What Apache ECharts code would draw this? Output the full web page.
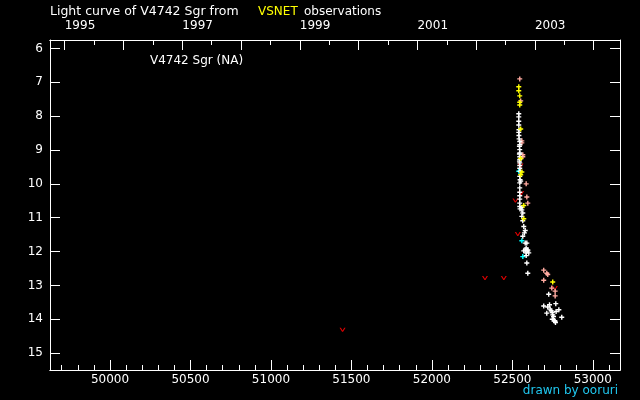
<!DOCTYPE html>
<html>
<head>
<meta charset="utf-8">
<script src="https://cdn.jsdelivr.net/npm/echarts@6/dist/echarts.min.js"></script>
<style>
  html, body { margin: 0; background: #000; }
  #chart { width: 640px; height: 400px; }
</style>
</head>
<body>
<div id="chart"></div>
<script>
// V4742 Sgr 光度曲线: x = JD-2400000, y = 星等 (反向)
const visual = [
  [52540, 7.93], [52540, 8.02], [52540, 8.15], [52540, 8.26], [52541, 8.40], [52540, 8.48],
  [52541, 8.57], [52542, 8.67], [52546, 8.75], [52546, 8.84], [52544, 8.89], [52546, 8.99],
  [52546, 9.09], [52544, 9.12], [52546, 9.20], [52546, 9.28], [52544, 9.33], [52546, 9.38],
  [52546, 9.46], [52546, 9.54], [52548, 9.63], [52546, 9.78], [52548, 9.88], [52546, 9.97],
  [52552, 9.92], [52546, 10.12], [52546, 10.25], [52546, 10.35], [52546, 10.45], [52546, 10.57],
  [52546, 10.67], [52548, 10.74], [52559, 10.70], [52559, 10.77], [52565, 10.86], [52559, 10.96],
  [52565, 11.09], [52571, 11.26], [52580, 11.38], [52575, 11.45], [52565, 11.55], [52580, 11.75],
  [52590, 11.75], [52586, 11.90], [52580, 11.95], [52596, 11.95], [52571, 11.98], [52596, 11.98],
  [52586, 12.04], [52602, 12.04], [52586, 12.12], [52590, 12.34], [52596, 12.64],
  [52726, 13.26], [52695, 13.61], [52720, 13.64], [52731, 13.57], [52770, 13.54], [52735, 13.70],
  [52741, 13.75], [52748, 13.80], [52751, 13.87], [52756, 13.92], [52714, 13.82], [52772, 13.77],
  [52789, 13.72], [52807, 13.94], [52748, 14.00], [52762, 14.04], [52768, 14.10], [52766, 14.06]
];
const yellowObs = [
  [52540, 7.13], [52540, 7.25], [52546, 7.40], [52546, 7.59], [52546, 7.67], [52552, 8.38],
  [52552, 9.25], [52559, 9.65], [52552, 9.73], [52571, 10.64], [52571, 11.03], [52751, 12.90]
];
const pinkObs = [
  [52546, 6.90], [52552, 7.55], [52559, 8.73], [52559, 8.79], [52565, 9.14], [52565, 9.20],
  [52586, 10.00], [52590, 10.39], [52596, 10.57], [52695, 12.55], [52714, 12.64], [52720, 12.68],
  [52695, 12.85], [52745, 13.08], [52766, 13.17], [52766, 13.31]
];
const cyanObs = [[52540, 9.63], [52559, 11.68], [52565, 12.15]];
// 暗于 (上限)
const fainterThan = [
  [51445, 14.31], [52330, 12.78], [52447, 12.78], [52519, 10.49], [52534, 11.48],
  [52551, 9.46], [52555, 10.27], [52764, 13.08]
];

const X_MIN = 49627, X_MAX = 53169;
const majorTicks = [50000, 50500, 51000, 51500, 52000, 52500, 53000];
const minorTicks = [];
for (let v = 49700; v <= 53100; v += 100) if (v % 500) minorTicks.push(v);
const yearNames = ["1995", "1996", "1997", "1998", "1999", "2000", "2001", "2002", "2003", "2004"];
const yearStarts = [49718.5, 50083.5, 50449.5, 50814.5, 51179.5, 51544.5, 51910.5, 52275.5, 52640.5, 53005.5];
const yearLabels = ["1995", "1997", "1999", "2001", "2003"];
const halfYears = yearStarts.slice(1).map((v, i) => (v + yearStarts[i]) / 2);
const magTicks = [6, 7, 8, 9, 10, 11, 12, 13, 14, 15];

const FONT = "DejaVu Sans";
const PLUS = "path://M1.8,0H3.2V1.8H5V3.2H3.2V5H1.8V3.2H0V1.8H1.8Z";
const VEE = "path://M0,0H1.3L3,2.8L4.7,0H6L3.5,4H2.5Z";

const line = { lineStyle: { color: "#fff", width: 1 } };
const xBase = { type: "value", min: X_MIN, max: X_MAX, splitLine: { show: false }, axisLine: line };
const yBase = { type: "value", inverse: true, min: 5.75, max: 15.5, splitLine: { show: false }, axisLine: line };

function scatter(data, color, symbol, size) {
  return {
    type: "scatter", data, symbol, symbolSize: size, xAxisIndex: 0, yAxisIndex: 0,
    itemStyle: { color, opacity: 1 }, silent: true,
  };
}

const chart = echarts.init(document.getElementById("chart"));
chart.setOption({
  backgroundColor: "#000",
  animation: false,
  grid: { left: 50, right: 20, top: 40, bottom: 30 },
  graphic: [
    { type: "text", x: 50, y: 12, style: { text: "Light curve of V4742 Sgr from", fill: "#fff", font: `12.5px "${FONT}"`, verticalAlign: "middle" } },
    { type: "text", x: 258, y: 12, style: { text: "VSNET", fill: "#ffff00", font: `12px "${FONT}"`, verticalAlign: "middle" } },
    { type: "text", x: 304, y: 12, style: { text: "observations", fill: "#fff", font: `12px "${FONT}"`, verticalAlign: "middle" } },
    { type: "text", x: 150, y: 61, style: { text: "V4742 Sgr (NA)", fill: "#fff", font: `12px "${FONT}"`, verticalAlign: "middle" } },
    { type: "text", x: 618, y: 391, style: { text: "drawn by ooruri", fill: "#20c8f0", font: `12px "${FONT}"`, align: "right", verticalAlign: "middle" } },
  ],
  xAxis: [
    { ...xBase, position: "bottom",
      axisTick: { inside: true, length: 10, customValues: majorTicks, lineStyle: { color: "#fff" } },
      axisLabel: { customValues: majorTicks, formatter: v => String(v), color: "#fff", fontSize: 12, fontFamily: FONT, margin: 4 } },
    { ...xBase, position: "bottom",
      axisTick: { inside: true, length: 5, customValues: minorTicks, lineStyle: { color: "#fff" } },
      axisLabel: { show: false } },
    { ...xBase, position: "top",
      axisTick: { inside: true, length: 10, customValues: yearStarts, lineStyle: { color: "#fff" } },
      axisLabel: {
        customValues: yearLabels.map(y => yearStarts[yearNames.indexOf(y)]),
        formatter: v => yearNames[yearStarts.findIndex(s => Math.abs(s - v) < 1)],
        color: "#fff", fontSize: 12, fontFamily: FONT, margin: 8, align: "left",
      } },
    { ...xBase, position: "top",
      axisTick: { inside: true, length: 5, customValues: halfYears, lineStyle: { color: "#fff" } },
      axisLabel: { show: false } },
  ],
  yAxis: [
    { ...yBase, position: "left",
      axisTick: { inside: true, length: 10, customValues: magTicks, lineStyle: { color: "#fff" } },
      axisLabel: { customValues: magTicks, color: "#fff", fontSize: 12, fontFamily: FONT, margin: 7 } },
    { ...yBase, position: "right",
      axisTick: { inside: true, length: 10, customValues: magTicks, lineStyle: { color: "#fff" } },
      axisLabel: { show: false } },
  ],
  series: [
    scatter(fainterThan, "#e00000", VEE, [6, 4]),
    scatter(pinkObs, "#ffaaa0", PLUS, 5),
    scatter(cyanObs, "#00ffff", PLUS, 5),
    scatter(visual, "#ffffff", PLUS, 5),
    scatter(yellowObs, "#ffff00", PLUS, 5),
  ],
});
</script>
</body>
</html>
